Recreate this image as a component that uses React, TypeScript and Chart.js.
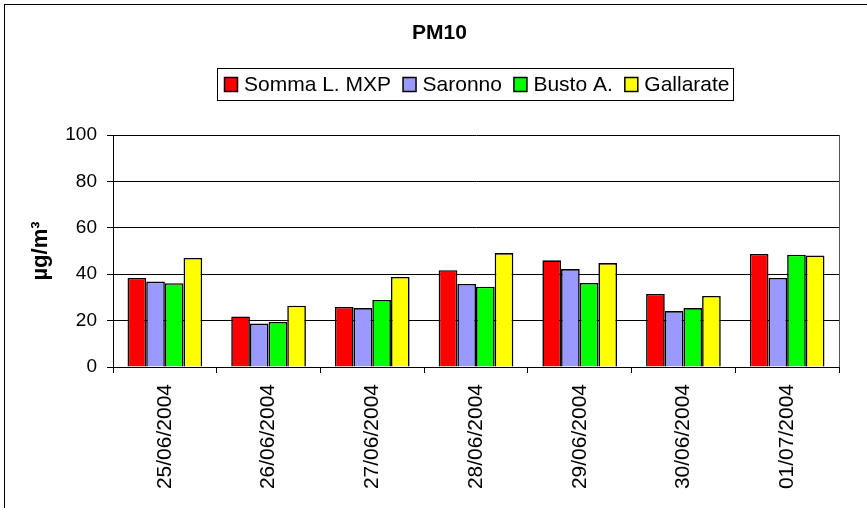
import React, { useEffect, useRef } from "react";
import { Chart, registerables } from "chart.js";

Chart.register(...registerables);

const TITLE = "PM10";
const Y_TITLE = "µg/m³";
const CATEGORIES = [
  "25/06/2004",
  "26/06/2004",
  "27/06/2004",
  "28/06/2004",
  "29/06/2004",
  "30/06/2004",
  "01/07/2004",
];
const SERIES_NAMES = ["Somma L. MXP", "Saronno", "Busto A.", "Gallarate"];
const SOMMA = [38.4, 21.8, 25.9, 41.7, 46.0, 31.5, 48.7];
const SARONNO = [36.8, 18.7, 25.4, 35.8, 42.2, 24.1, 38.4];
const BUSTO = [36.1, 19.4, 28.9, 34.6, 36.2, 25.4, 48.4];
const GALLARATE = [47.0, 26.4, 38.8, 49.1, 44.8, 30.6, 48.1];
const COLORS = ["#FF0000", "#9999FF", "#00FF00", "#FFFF00"];
const Y_TICKS = [0, 20, 40, 60, 80, 100];

const FONT = "'Liberation Sans', Arial, Helvetica, sans-serif";

const decorPlugin = {
  id: "decor",
  afterDraw(chart: any) {
    const ctx = chart.ctx;
    const area = chart.chartArea;
    ctx.save();
    // outer frame
    ctx.strokeStyle = "#000";
    ctx.lineWidth = 1;
    ctx.strokeRect(4.5, 4.5, 1000, 1000);
    // plot area right border
    ctx.strokeStyle = "#555";
    ctx.beginPath();
    ctx.moveTo(Math.round(area.right) + 0.5, area.top);
    ctx.lineTo(Math.round(area.right) + 0.5, area.bottom);
    ctx.stroke();
    // title
    ctx.fillStyle = "#000";
    ctx.font = `bold 21px ${FONT}`;
    ctx.textAlign = "center";
    ctx.textBaseline = "middle";
    ctx.fillText(TITLE, 439.5, 33);
    // legend
    const boxX = 217.5,
      boxY = 68.5,
      boxW = 516,
      boxH = 32;
    ctx.fillStyle = "#fff";
    ctx.fillRect(boxX, boxY, boxW, boxH);
    ctx.strokeStyle = "#000";
    ctx.strokeRect(boxX, boxY, boxW, boxH);
    ctx.font = `21px ${FONT}`;
    ctx.textAlign = "left";
    let x = 224;
    const ds = chart.data.datasets;
    for (let i = 0; i < ds.length; i++) {
      ctx.fillStyle = ds[i].backgroundColor;
      ctx.fillRect(x + 0.5, 77.5, 13, 14);
      ctx.strokeStyle = "#000";
      ctx.lineWidth = 1.5;
      ctx.strokeRect(x + 0.5, 77.5, 13, 14);
      ctx.fillStyle = "#000";
      ctx.fillText(ds[i].label, x + 20, 85.5);
      x += 20 + ctx.measureText(ds[i].label).width + 11.5;
    }
    ctx.restore();
  },
};

export default function App() {
  const ref = useRef<HTMLCanvasElement>(null);
  useEffect(() => {
    document.body.style.margin = "0";
    const values = [SOMMA, SARONNO, BUSTO, GALLARATE];
    const chart = new Chart(ref.current as HTMLCanvasElement, {
      type: "bar",
      data: {
        labels: CATEGORIES,
        datasets: SERIES_NAMES.map((name, i) => ({
          label: name,
          data: values[i],
          backgroundColor: COLORS[i],
          borderColor: "#000",
          borderWidth: 1.6,
          categoryPercentage: 0.72,
          barPercentage: 1.0,
        })),
      },
      options: {
        responsive: false,
        animation: false,
        devicePixelRatio: 1,
        layout: { padding: { left: 0, top: 135, right: 28, bottom: 0 } },
        plugins: {
          legend: { display: false },
          title: { display: false },
          tooltip: { enabled: false },
        },
        scales: {
          x: {
            grid: {
              display: true,
              offset: true,
              drawOnChartArea: false,
              drawTicks: true,
              tickLength: 6,
              color: "#000",
            },
            border: { display: true, color: "#000", width: 1 },
            ticks: {
              minRotation: 90,
              maxRotation: 90,
              autoSkip: false,
              padding: 11,
              color: "#000",
              font: { family: FONT, size: 21 },
            },
            afterFit: (scale: any) => {
              scale.height = 141;
            },
          },
          y: {
            min: 0,
            max: 100,
            afterBuildTicks: (scale: any) => {
              scale.ticks = Y_TICKS.map((v) => ({ value: v }));
            },
            grid: {
              color: "#000",
              lineWidth: 1,
              drawTicks: true,
              tickLength: 6,
            },
            border: { display: true, color: "#000", width: 1 },
            ticks: {
              padding: 10,
              color: "#000",
              font: { family: FONT, size: 19 },
            },
            title: {
              display: true,
              text: Y_TITLE,
              color: "#000",
              font: { family: FONT, size: 22, weight: "bold" },
              padding: { top: 28, bottom: 0 },
            },
            afterFit: (scale: any) => {
              scale.width = 113;
            },
          },
        },
      },
      plugins: [decorPlugin],
    });
    return () => chart.destroy();
  }, []);
  return (
    <div style={{ position: "absolute", left: 0, top: 0, width: 867, height: 508, background: "#fff" }}>
      <canvas ref={ref} width={867} height={508} />
    </div>
  );
}
